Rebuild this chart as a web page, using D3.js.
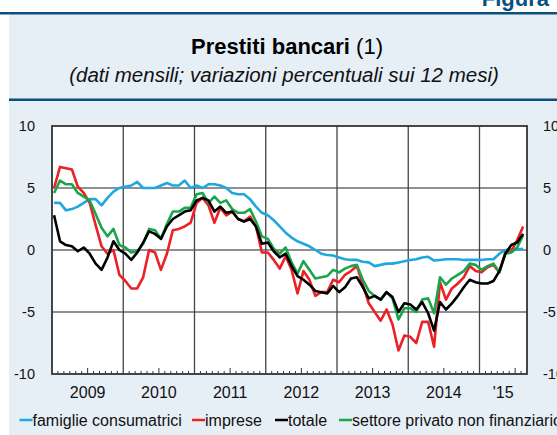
<!DOCTYPE html>
<html><head><meta charset="utf-8">
<script src="https://cdn.jsdelivr.net/npm/d3@7"></script>
<style>body{margin:0;background:#fff}svg{display:block;font-family:"Liberation Sans",Arial,sans-serif}</style>
</head><body><svg id="c" width="557" height="435"></svg>
<script>
// ---- data (monthly, Jan 2009 – Aug 2015) ----
const startYear = 2009;
const yearLabels = ["2009","2010","2011","2012","2013","2014","'15"];
const yTicks = [-10,-5,0,5,10];
const famiglie = [3.8,3.8,3.2,3.3,3.5,3.8,4.1,4.1,3.6,4.2,4.7,5.0,5.1,5.2,5.5,5.0,5.0,5.0,5.2,5.4,
  5.2,5.2,5.6,5.0,5.2,5.0,5.3,5.3,5.2,5.0,4.6,4.5,4.5,4.1,3.5,3.0,2.8,2.4,1.9,1.4,
  1.0,0.7,0.5,0.3,0.0,-0.3,-0.4,-0.45,-0.6,-0.75,-0.8,-0.8,-0.95,-1.0,-1.3,-1.2,-1.1,-1.1,-1.0,-0.9,
  -0.8,-0.75,-0.6,-0.55,-0.85,-0.8,-0.75,-0.75,-0.75,-0.8,-0.8,-0.8,-0.8,-0.75,-0.75,-0.3,0.0,0.05,0.05,0.1];
const imprese = [5.0,6.7,6.6,6.5,5.1,4.6,3.8,2.0,0.3,-0.3,0.0,-2.0,-2.5,-3.1,-3.1,-2.2,0.0,-0.2,-1.6,-0.3,
  1.6,1.7,1.9,2.2,3.8,4.2,3.6,2.2,3.4,2.8,3.1,2.5,2.3,2.7,1.9,-0.2,-0.2,-0.8,-1.5,-0.5,
  -1.6,-3.5,-1.7,-2.4,-3.7,-3.4,-3.4,-2.4,-2.6,-2.0,-1.7,-1.3,-2.8,-4.3,-5.0,-5.7,-4.8,-6.0,-8.1,-6.9,
  -7.0,-7.5,-5.8,-5.8,-7.8,-2.6,-4.0,-3.1,-2.7,-2.2,-1.3,-1.7,-1.8,-1.4,-1.2,-1.8,-0.2,-0.1,0.8,1.9];
const totale = [2.8,0.7,0.4,0.3,-0.1,0.2,-0.3,-1.1,-1.6,-0.6,0.7,0.0,-0.3,-0.8,-0.2,0.6,1.5,1.3,0.9,1.9,
  2.5,2.8,3.1,3.2,4.0,4.2,4.0,3.1,3.5,3.0,3.1,2.5,2.3,2.5,1.9,0.5,0.6,-0.1,-0.6,-0.3,
  -1.3,-2.1,-2.4,-2.8,-3.3,-3.4,-3.5,-2.9,-3.4,-3.0,-2.3,-2.2,-3.0,-3.9,-3.7,-4.0,-3.4,-3.8,-5.0,-4.3,
  -4.4,-4.8,-4.2,-5.1,-6.5,-4.2,-4.8,-4.3,-3.7,-3.0,-2.4,-2.6,-2.7,-2.7,-2.5,-1.7,-0.3,0.4,0.6,1.3];
const settore = [4.6,5.6,5.3,5.3,4.6,4.3,4.0,2.9,1.8,1.1,1.7,0.4,0.2,-0.2,-0.1,0.5,1.7,1.6,0.9,2.1,
  3.1,3.1,3.4,3.4,4.5,4.6,3.8,4.3,3.8,4.0,3.3,3.0,3.0,3.3,2.3,1.1,0.9,0.1,-0.3,0.2,
  -1.0,-1.9,-0.9,-1.6,-2.3,-2.2,-2.1,-1.6,-1.8,-1.5,-1.3,-1.2,-2.4,-3.3,-3.7,-4.0,-3.4,-3.9,-5.6,-4.7,
  -4.7,-5.0,-4.0,-3.9,-5.1,-2.2,-2.8,-2.3,-2.0,-1.7,-1.1,-1.2,-1.6,-1.3,-1.1,-1.8,-0.3,-0.2,0.2,1.2];
const seriesNames = ["famiglie consumatrici","imprese","totale","settore privato non finanziario"];
const seriesColors = ["#1FA8E0","#EC2027","#000000","#1BA54B"];
const seriesData = [famiglie, imprese, totale, settore];

// ---- layout ----
const svg = d3.select("#c");
const L = 52, R = 527, T = 126, B = 374;
const x = d3.scaleLinear().domain([0, 80]).range([L, R]);
const y = d3.scaleLinear().domain([-10, 10]).range([B, T]);
const dark = "#0B4F80";

svg.append("rect").attr("width",557).attr("height",435).attr("fill","#fff");
svg.append("rect").attr("x",9).attr("y",14).attr("width",548).attr("height",421).attr("fill","#E6EEF6");
svg.append("rect").attr("x",0).attr("y",12).attr("width",557).attr("height",2.5).attr("fill",dark);
svg.append("text").attr("x",549).attr("y",6).attr("text-anchor","end").attr("font-size",22)
  .attr("font-weight","bold").attr("fill",dark).text("Figura");

const title = svg.append("text").attr("x",287).attr("y",54).attr("text-anchor","middle").attr("font-size",22).attr("fill","#000");
title.append("tspan").attr("font-weight","bold").text("Prestiti bancari");
title.append("tspan").text(" (1)");
svg.append("text").attr("x",284).attr("y",82).attr("text-anchor","middle").attr("font-size",20.5)
  .attr("font-style","italic").attr("fill","#111").text("(dati mensili; variazioni percentuali sui 12 mesi)");
svg.append("rect").attr("x",9).attr("y",98.5).attr("width",548).attr("height",2.5).attr("fill",dark);

// plot area
svg.append("rect").attr("x",L).attr("y",T).attr("width",R-L).attr("height",B-T).attr("fill","#fff");

// horizontal grid
svg.append("g").selectAll("line").data([-5,0,5]).join("line")
  .attr("x1",L).attr("x2",R).attr("y1",d=>y(d)).attr("y2",d=>y(d))
  .attr("stroke","#222").attr("stroke-width",1.2);
// vertical grid at year starts
const yearStarts = d3.range(12, 80, 12);
svg.append("g").selectAll("line").data(yearStarts).join("line")
  .attr("x1",d=>x(d)).attr("x2",d=>x(d)).attr("y1",T).attr("y2",B)
  .attr("stroke","#444").attr("stroke-width",1.3);
// monthly ticks on bottom axis
svg.append("g").selectAll("line").data(d3.range(1,80).filter(m=>m%12!==0)).join("line")
  .attr("x1",d=>x(d)).attr("x2",d=>x(d)).attr("y1",B).attr("y2",d=> B - (d%12===6 ? 6 : 3))
  .attr("stroke","#333").attr("stroke-width",1);

// lines
const line = d3.line().x((d,i)=>x(i+0.35)).y(d=>y(d));
const g = svg.append("g").attr("fill","none").attr("stroke-width",2.6).attr("stroke-linejoin","round");
[0,1,3,2].forEach(k=>{
  g.append("path").datum(seriesData[k]).attr("d",line).attr("stroke",seriesColors[k]);
});

// frame
svg.append("rect").attr("x",L).attr("y",T).attr("width",R-L).attr("height",B-T)
  .attr("fill","none").attr("stroke","#333").attr("stroke-width",1.8);

// y labels (left and right)
const lab = svg.append("g").attr("font-size",14.5).attr("fill","#111");
lab.selectAll(".yl").data(yTicks).join("text").attr("class","yl")
  .attr("x",35).attr("y",d=>y(d)+5).attr("text-anchor","end").text(d=>d);
lab.selectAll(".yr").data(yTicks).join("text").attr("class","yr")
  .attr("x",543).attr("y",d=>y(d)+5).attr("text-anchor","start").text(d=>d);

// x labels
const labelPos = yearLabels.map((t,i)=> i < yearLabels.length-1 ? 12*i+6 : 76);
svg.append("g").attr("font-size",16).attr("fill","#111")
  .selectAll("text").data(yearLabels).join("text")
  .attr("x",(d,i)=>x(labelPos[i])).attr("y",398).attr("text-anchor","middle").text(d=>d);

// legend
const legX = [19.5, 192, 275, 339];
const leg = svg.append("g").attr("font-size",16).attr("fill","#111");
seriesNames.forEach((n,k)=>{
  leg.append("line").attr("x1",legX[k]).attr("x2",legX[k]+13).attr("y1",420).attr("y2",420)
    .attr("stroke",seriesColors[k]).attr("stroke-width",2.5);
  leg.append("text").attr("x",legX[k]+13).attr("y",425.5).text(n);
});
</script></body></html>
